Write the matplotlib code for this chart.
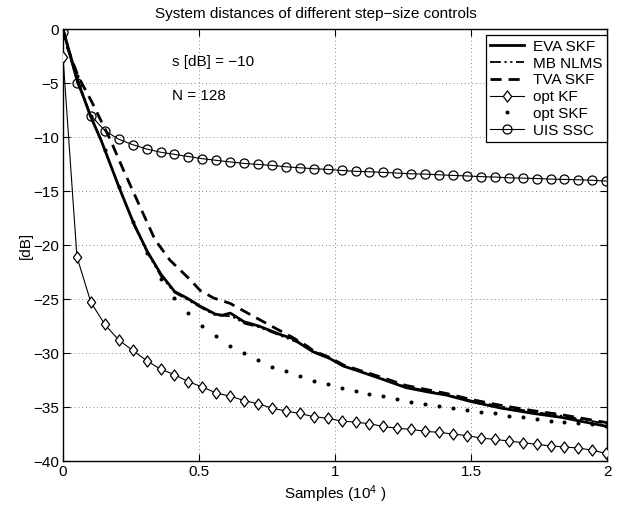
import numpy as np
import matplotlib
matplotlib.use("Agg")
import matplotlib.pyplot as plt

plt.rcParams['font.family'] = ['Liberation Sans', 'DejaVu Sans']
plt.rcParams['mathtext.fontset'] = 'custom'
plt.rcParams['mathtext.rm'] = 'Liberation Sans'
plt.rcParams['mathtext.it'] = 'Liberation Sans:italic'

# ---- data ----
marker_step = 0.0512
k = np.arange(40)
grid_x = k * marker_step

eva_x = [0, 0.05, 0.10, 0.14, 0.21, 0.26, 0.31, 0.36, 0.41, 0.455, 0.50, 0.56, 0.585,
         0.615, 0.665, 0.72, 0.80, 0.85, 0.87, 0.92, 0.98, 1.03, 1.09, 1.165, 1.26,
         1.34, 1.41, 1.50, 1.61, 1.73, 1.83, 2.0]
eva_y = [0, -4.5, -8.0, -10.3, -14.9, -18.0, -20.6, -22.7, -24.3, -24.9, -25.6, -26.4, -26.5,
         -26.3, -27.1, -27.5, -28.3, -28.7, -29.1, -29.9, -30.5, -31.2, -31.7, -32.35, -33.2,
         -33.6, -33.9, -34.5, -35.1, -35.6, -35.95, -36.8]

mb_x = [0, 0.05, 0.10, 0.15, 0.20, 0.26, 0.31, 0.36, 0.41, 0.46, 0.50, 0.56, 0.62, 0.67,
        0.72, 0.80, 0.87, 0.92, 0.98, 1.03, 1.09, 1.165, 1.26, 1.34, 1.41, 1.50, 1.61,
        1.73, 1.83, 2.0]
mb_y = [0, -4.4, -7.9, -10.9, -14.3, -18.1, -20.7, -22.9, -24.4, -25.1, -25.7, -26.5, -26.6,
        -27.3, -27.6, -28.4, -29.1, -29.8, -30.5, -31.2, -31.7, -32.3, -33.1, -33.5, -33.85,
        -34.4, -34.95, -35.45, -35.8, -36.55]

tva_x = [0, 0.013, 0.056, 0.105, 0.136, 0.173, 0.222, 0.283, 0.338, 0.393, 0.467, 0.504,
         0.553, 0.614, 0.70, 0.773, 0.84, 0.90, 0.92, 0.98, 1.03, 1.09, 1.165, 1.26, 1.34,
         1.41, 1.50, 1.61, 1.73, 1.83, 2.0]
tva_y = [0, -1.5, -4.4, -6.7, -8.3, -10.2, -13.05, -16.45, -19.5, -21.4, -23.2, -24.2,
         -24.9, -25.4, -26.6, -27.6, -28.5, -29.4, -29.8, -30.4, -31.1, -31.6, -32.2, -33.0,
         -33.4, -33.75, -34.3, -34.85, -35.35, -35.7, -36.45]

optkf_y = [-2.6, -21.1, -25.3, -27.35, -28.8, -29.75, -30.7, -31.5, -32.0, -32.65,
           -33.15, -33.7, -34.0, -34.4, -34.7, -35.1, -35.37, -35.6, -35.9, -36.05,
           -36.3, -36.4, -36.55, -36.8, -36.97, -37.07, -37.25, -37.35, -37.5, -37.65,
           -37.87, -38.0, -38.15, -38.3, -38.46, -38.6, -38.7, -38.8, -39.0, -39.3]

optskf_y = [0, -4.3, -8.0, -11.2, -14.6, -17.9, -20.7, -23.15, -24.9, -26.3,
            -27.5, -28.45, -29.35, -30.0, -30.65, -31.25, -31.7, -32.1, -32.6, -32.9,
            -33.2, -33.5, -33.8, -34.0, -34.3, -34.5, -34.7, -34.9, -35.1, -35.3,
            -35.5, -35.6, -35.8, -35.95, -36.1, -36.3, -36.4, -36.5, -36.6, -36.75]

uis_y = [-0.3, -5.0, -8.0, -9.4, -10.2, -10.7, -11.1, -11.4, -11.6, -11.8,
         -12.0, -12.15, -12.3, -12.44, -12.53, -12.62, -12.75, -12.84, -12.93, -12.99,
         -13.09, -13.17, -13.21, -13.27, -13.33, -13.4, -13.43, -13.49, -13.55, -13.6,
         -13.66, -13.7, -13.77, -13.8, -13.84, -13.89, -13.92, -13.95, -14.0, -14.07]

xticks = [0, 0.5, 1, 1.5, 2]
xticklabels = ['0', '0.5', '1', '1.5', '2']
yticks = [-40, -35, -30, -25, -20, -15, -10, -5, 0]

FS = 11
diamond = [(-0.75, 0), (0, 1), (0.75, 0), (0, -1), (-0.75, 0)]

# ---- plot ----
fig = plt.figure(figsize=(6.24, 5.12), dpi=100)
ax = fig.add_axes([0.101, 0.0996, 0.872, 0.8435])

ax.plot(mb_x, mb_y, color='k', lw=1.3, linestyle=(0, (6, 2, 1.2, 2, 1.2, 2)), label='MB NLMS', zorder=3)
ax.plot(eva_x, eva_y, color='k', lw=2.0, label='EVA SKF', zorder=4)
ax.plot(tva_x, tva_y, color='k', lw=2.0, linestyle=(0, (4, 2.5)), label='TVA SKF', zorder=4)
ax.plot(grid_x, optkf_y, color='k', lw=0.8, marker=diamond, ms=8, mfc='white', mec='k', mew=0.9,
        label='opt KF', zorder=5)
ax.plot(grid_x, optskf_y, linestyle='none', marker='o', ms=1.9, color='k', label='opt SKF', zorder=3)
ax.plot(grid_x, uis_y, color='k', lw=0.8, marker='o', ms=6.5, mfc='none', mec='k', mew=0.9,
        label='UIS SSC', zorder=5)

ax.set_xlim(0, 2)
ax.set_ylim(-40, 0)
ax.set_xticks(xticks)
ax.set_xticklabels(xticklabels)
ax.set_yticks(yticks)
ax.tick_params(direction='in', top=True, right=True, length=5, labelsize=FS, width=0.8, pad=3)
ax.grid(True, linestyle=(0, (1, 3.5)), color='0.35', lw=0.6)
for s in ax.spines.values():
    s.set_linewidth(1.0)

ax.set_title('System distances of different step\u2212size controls', fontsize=FS, pad=8, x=0.465)
ax.set_xlabel('Samples (10$^{4}$ )', fontsize=FS, labelpad=3)
ax.set_ylabel('[dB]', fontsize=FS, labelpad=0)

ax.text(0.40, -3.05, 's [dB] = \u221210', fontsize=FS, va='center', ha='left')
ax.text(0.40, -6.2, 'N = 128', fontsize=FS, va='center', ha='left')

handles, labels = ax.get_legend_handles_labels()
order = ['EVA SKF', 'MB NLMS', 'TVA SKF', 'opt KF', 'opt SKF', 'UIS SSC']
hmap = dict(zip(labels, handles))
leg = ax.legend([hmap[o] for o in order], order, loc='upper right', bbox_to_anchor=(1.0, 0.986),
                borderaxespad=0, fontsize=FS, frameon=True, fancybox=False, framealpha=1,
                edgecolor='k', labelspacing=0.18, handlelength=2.2, handletextpad=0.6,
                borderpad=0.3)
leg.get_frame().set_linewidth(0.9)

fig.savefig('out.png', dpi=100)
